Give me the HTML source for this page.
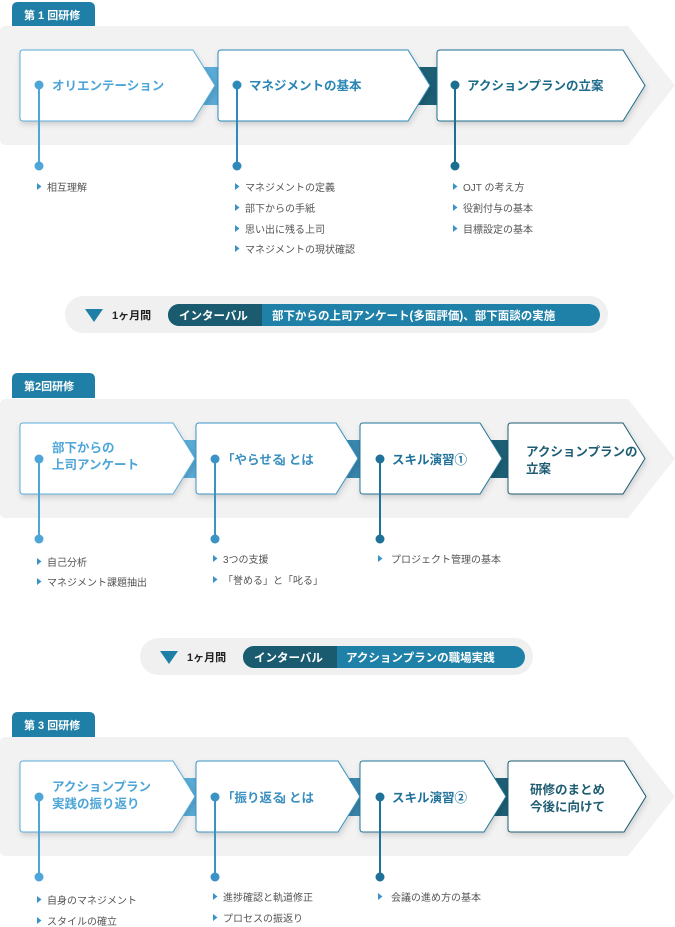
<!DOCTYPE html>
<html><head><meta charset="utf-8">
<style>
html,body{margin:0;padding:0;background:#fff;}
svg{display:block;}
text{font-family:"Liberation Sans","Noto Sans CJK JP",sans-serif;}
.t{font-size:12.5px;font-weight:bold;}
.li{font-size:10px;fill:#555;}
.tab{font-size:11px;font-weight:bold;fill:#fff;}
</style></head><body>
<svg width="675" height="927" viewBox="0 0 675 927" xmlns="http://www.w3.org/2000/svg">
<defs>
<filter id="sh" x="-10%" y="-10%" width="130%" height="140%"><feDropShadow dx="1" dy="3" stdDeviation="3" flood-color="#000" flood-opacity="0.15"/></filter>
</defs>

<!-- ========== Section 1 ========== -->
<path d="M12,26 V8 Q12,2 18,2 H89 Q95,2 95,8 V26Z" fill="#1f7fa6"/>
<text x="24" y="19" class="tab">第 1 回研修</text>
<path d="M6,26 H628 L675,85.5 L628,145 H6 Q0,145 0,139 V32 Q0,26 6,26Z" fill="#f2f2f2"/>
<rect x="190" y="67" width="35" height="38" fill="#5aacd8"/>
<rect x="405" y="67" width="38" height="38" fill="#1d5f74"/>
<path d="M23,50 H193 L215,85.5 L193,121 H23 Q20,121 20,118 V53 Q20,50 23,50Z" fill="#fff" stroke="#5aacd8" filter="url(#sh)"/>
<path d="M221,50 H408 L430,85.5 L408,121 H221 Q218,121 218,118 V53 Q218,50 221,50Z" fill="#fff" stroke="#2f8abb" filter="url(#sh)"/>
<path d="M440,50 H623 L645,85.5 L623,121 H440 Q437,121 437,118 V53 Q437,50 440,50Z" fill="#fff" stroke="#1f6f8e" filter="url(#sh)"/>
<text x="52" y="90" class="t" fill="#4ea6d8">オリエンテーション</text>
<text x="249" y="90" class="t" fill="#2a86b5">マネジメントの基本</text>
<text x="467" y="90" class="t" fill="#1c6a8a">アクションプランの立案</text>
<g stroke-width="2">
<line x1="39" y1="85" x2="39" y2="166" stroke="#4ea6d8"/>
<line x1="237" y1="85" x2="237" y2="166" stroke="#2f8abb"/>
<line x1="455" y1="85" x2="455" y2="166" stroke="#1d6f8f"/>
</g>
<circle cx="39" cy="85" r="4.5" fill="#4ea6d8"/><circle cx="39" cy="166" r="4.5" fill="#4ea6d8"/>
<circle cx="237" cy="85" r="4.5" fill="#2f8abb"/><circle cx="237" cy="166" r="4.5" fill="#2f8abb"/>
<circle cx="455" cy="85" r="4.5" fill="#1d6f8f"/><circle cx="455" cy="166" r="4.5" fill="#1d6f8f"/>
<g fill="#3a93c4">
<path d="M37,183 l4.5,3.5 l-4.5,3.5Z"/>
<path d="M235,183 l4.5,3.5 l-4.5,3.5Z"/><path d="M235,204 l4.5,3.5 l-4.5,3.5Z"/><path d="M235,225 l4.5,3.5 l-4.5,3.5Z"/><path d="M235,245 l4.5,3.5 l-4.5,3.5Z"/>
<path d="M453,183 l4.5,3.5 l-4.5,3.5Z"/><path d="M453,204 l4.5,3.5 l-4.5,3.5Z"/><path d="M453,225 l4.5,3.5 l-4.5,3.5Z"/>
</g>
<text x="47" y="191" class="li">相互理解</text>
<text x="245" y="191" class="li">マネジメントの定義</text>
<text x="245" y="212" class="li">部下からの手紙</text>
<text x="245" y="233" class="li">思い出に残る上司</text>
<text x="245" y="253" class="li">マネジメントの現状確認</text>
<text x="463" y="191" class="li">OJT の考え方</text>
<text x="463" y="212" class="li">役割付与の基本</text>
<text x="463" y="233" class="li">目標設定の基本</text>

<!-- Interval 1 -->
<rect x="65" y="296" width="543" height="37" rx="18.5" fill="#f0f0f0"/>
<path d="M85,309 H103 L94,322Z" fill="#1f7fa6"/>
<text x="112" y="319" font-size="11" font-weight="bold" fill="#222">1ヶ月間</text>
<rect x="168" y="304" width="432" height="22" rx="11" fill="#1f81a8"/>
<path d="M179,304 H262 V326 H179 A11,11 0 0 1 179,304Z" fill="#1b5b70"/>
<text x="179" y="319.5" font-size="11.5" font-weight="bold" fill="#fff">インターバル</text>
<text x="272" y="319.5" font-size="11.5" font-weight="bold" fill="#fff">部下からの上司アンケート(多面評価)、部下面談の実施</text>

<!-- ========== Section 2 ========== -->
<path d="M12,398 V379 Q12,373 18,373 H89 Q95,373 95,379 V398Z" fill="#1f7fa6"/>
<text x="24" y="390" class="tab">第2回研修</text>
<path d="M6,399 H628 L675,458.5 L628,518 H6 Q0,518 0,512 V405 Q0,399 6,399Z" fill="#f2f2f2"/>
<rect x="175" y="440" width="30" height="38" fill="#5aacd8"/>
<rect x="338" y="440" width="30" height="38" fill="#3a87ad"/>
<rect x="480" y="440" width="35" height="38" fill="#1d5f74"/>
<path d="M23,423 H173 L195,458.5 L173,494 H23 Q20,494 20,491 V426 Q20,423 23,423Z" fill="#fff" stroke="#5aacd8" filter="url(#sh)"/>
<path d="M199,423 H336 L358,458.5 L336,494 H199 Q196,494 196,491 V426 Q196,423 199,423Z" fill="#fff" stroke="#3a93c4" filter="url(#sh)"/>
<path d="M363,423 H480 L502,458.5 L480,494 H363 Q360,494 360,491 V426 Q360,423 363,423Z" fill="#fff" stroke="#23769a" filter="url(#sh)"/>
<path d="M511,423 H623 L645,458.5 L623,494 H511 Q508,494 508,491 V426 Q508,423 511,423Z" fill="#fff" stroke="#1b5b70" filter="url(#sh)"/>
<text x="52" y="452" class="t" fill="#4ea6d8" font-size="12">部下からの</text>
<text x="52" y="469" class="t" fill="#4ea6d8" font-size="12">上司アンケート</text>
<text x="222" y="464" class="t" fill="#3a8fc0">「<tspan>やらせる</tspan><tspan dx="-4">」</tspan><tspan dx="-4">とは</tspan></text>
<text x="392" y="464" class="t" fill="#1f7199">スキル演習①</text>
<text x="526" y="456" class="t" fill="#1d5c72" font-size="11.5">アクションプランの</text>
<text x="526" y="473" class="t" fill="#1d5c72" font-size="11.5">立案</text>
<g stroke-width="2">
<line x1="39" y1="459" x2="39" y2="539" stroke="#4ea6d8"/>
<line x1="215" y1="459" x2="215" y2="539" stroke="#3a93c4"/>
<line x1="380" y1="459" x2="380" y2="539" stroke="#1f7199"/>
</g>
<circle cx="39" cy="459" r="4.5" fill="#4ea6d8"/><circle cx="39" cy="539" r="4.5" fill="#4ea6d8"/>
<circle cx="215" cy="459" r="4.5" fill="#3a93c4"/><circle cx="215" cy="539" r="4.5" fill="#3a93c4"/>
<circle cx="380" cy="459" r="4.5" fill="#1f7199"/><circle cx="380" cy="539" r="4.5" fill="#1f7199"/>
<g fill="#3a93c4">
<path d="M37,558 l4.5,3.5 l-4.5,3.5Z"/><path d="M37,578 l4.5,3.5 l-4.5,3.5Z"/>
<path d="M213,555 l4.5,3.5 l-4.5,3.5Z"/><path d="M213,576 l4.5,3.5 l-4.5,3.5Z"/>
<path d="M378,555 l4.5,3.5 l-4.5,3.5Z"/>
</g>
<text x="47" y="566" class="li">自己分析</text>
<text x="47" y="586" class="li">マネジメント課題抽出</text>
<text x="223" y="563" class="li">3つの支援</text>
<text x="223" y="584" class="li">「誉める」と「叱る」</text>
<text x="391" y="563" class="li">プロジェクト管理の基本</text>

<!-- Interval 2 -->
<rect x="140" y="638" width="393" height="37" rx="18.5" fill="#f0f0f0"/>
<path d="M160,651 H178 L169,664Z" fill="#1f7fa6"/>
<text x="187" y="661" font-size="11" font-weight="bold" fill="#222">1ヶ月間</text>
<rect x="243" y="646" width="282" height="22" rx="11" fill="#1f81a8"/>
<path d="M254,646 H337 V668 H254 A11,11 0 0 1 254,646Z" fill="#1b5b70"/>
<text x="254" y="661.5" font-size="11.5" font-weight="bold" fill="#fff">インターバル</text>
<text x="346" y="661.5" font-size="11.5" font-weight="bold" fill="#fff">アクションプランの職場実践</text>

<!-- ========== Section 3 ========== -->
<path d="M12,737 V718 Q12,712 18,712 H89 Q95,712 95,718 V737Z" fill="#1f7fa6"/>
<text x="24" y="729" class="tab">第 3 回研修</text>
<path d="M6,737 H628 L675,796.5 L628,856 H6 Q0,856 0,850 V743 Q0,737 6,737Z" fill="#f2f2f2"/>
<rect x="175" y="778" width="30" height="38" fill="#5aacd8"/>
<rect x="338" y="778" width="30" height="38" fill="#3a87ad"/>
<rect x="485" y="778" width="35" height="38" fill="#1d5f74"/>
<path d="M23,761 H173 L195,796.5 L173,832 H23 Q20,832 20,829 V764 Q20,761 23,761Z" fill="#fff" stroke="#5aacd8" filter="url(#sh)"/>
<path d="M199,761 H338 L360,796.5 L338,832 H199 Q196,832 196,829 V764 Q196,761 199,761Z" fill="#fff" stroke="#3a93c4" filter="url(#sh)"/>
<path d="M363,761 H484 L506,796.5 L484,832 H363 Q360,832 360,829 V764 Q360,761 363,761Z" fill="#fff" stroke="#23769a" filter="url(#sh)"/>
<path d="M511,761 H624 L646,796.5 L624,832 H511 Q508,832 508,829 V764 Q508,761 511,761Z" fill="#fff" stroke="#1b5b70" filter="url(#sh)"/>
<text x="52" y="791" class="t" fill="#4ea6d8" font-size="12">アクションプラン</text>
<text x="52" y="808" class="t" fill="#4ea6d8" font-size="12">実践の振り返り</text>
<text x="222" y="802" class="t" fill="#3a8fc0">「<tspan>振り返る</tspan><tspan dx="-4">」</tspan><tspan dx="-4">とは</tspan></text>
<text x="392" y="802" class="t" fill="#1f7199">スキル演習②</text>
<text x="530" y="794" class="t" fill="#1d5c72" font-size="12">研修のまとめ</text>
<text x="530" y="811" class="t" fill="#1d5c72" font-size="12">今後に向けて</text>
<g stroke-width="2">
<line x1="39" y1="797" x2="39" y2="877" stroke="#4ea6d8"/>
<line x1="215" y1="797" x2="215" y2="877" stroke="#3a93c4"/>
<line x1="380" y1="797" x2="380" y2="877" stroke="#1f7199"/>
</g>
<circle cx="39" cy="797" r="4.5" fill="#4ea6d8"/><circle cx="39" cy="877" r="4.5" fill="#4ea6d8"/>
<circle cx="215" cy="797" r="4.5" fill="#3a93c4"/><circle cx="215" cy="877" r="4.5" fill="#3a93c4"/>
<circle cx="380" cy="797" r="4.5" fill="#1f7199"/><circle cx="380" cy="877" r="4.5" fill="#1f7199"/>
<g fill="#3a93c4">
<path d="M37,896 l4.5,3.5 l-4.5,3.5Z"/><path d="M37,917 l4.5,3.5 l-4.5,3.5Z"/>
<path d="M213,893 l4.5,3.5 l-4.5,3.5Z"/><path d="M213,914 l4.5,3.5 l-4.5,3.5Z"/>
<path d="M378,893 l4.5,3.5 l-4.5,3.5Z"/>
</g>
<text x="47" y="904" class="li">自身のマネジメント</text>
<text x="47" y="925" class="li">スタイルの確立</text>
<text x="223" y="901" class="li">進捗確認と軌道修正</text>
<text x="223" y="922" class="li">プロセスの振返り</text>
<text x="391" y="901" class="li">会議の進め方の基本</text>
</svg>
</body></html>
